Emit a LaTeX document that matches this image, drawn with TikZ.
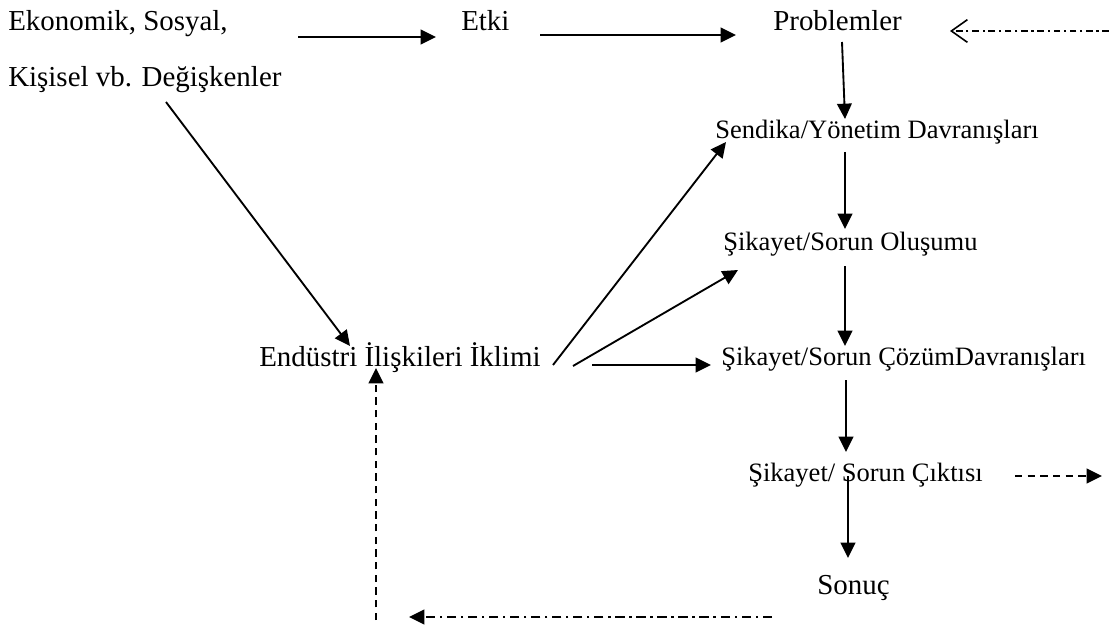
\documentclass[tikz,border=0pt]{standalone}
\usepackage{fontspec}
\setmainfont{Liberation Serif}
\usetikzlibrary{arrows.meta}
\begin{document}
\begin{tikzpicture}[x=0.75pt,y=-0.75pt,
  lbl/.style={inner sep=0pt,anchor=base west,font=\fontsize{21.7}{26}\selectfont},
  slbl/.style={lbl,font=\fontsize{19.9}{24}\selectfont},
  arr/.style={line width=1.4pt,-{Triangle[length=11.5pt,width=11pt]}},
  dasharr/.style={arr,dash pattern=on 5.5pt off 4pt},
  dotdasharr/.style={arr,dash pattern=on 7pt off 3.5pt on 1.8pt off 3.5pt},
  openarr/.style={line width=1.2pt,dash pattern=on 5pt off 2.8pt on 1.6pt off 2.8pt,
    -{Straight Barb[length=12pt,width=17pt,line width=1.2pt]}}]
\useasboundingbox (0,0) rectangle (1109,627);
% text blocks
\node[lbl] (ek1) at (8,31) {Ekonomik, Sosyal,};
\node[lbl] (ek2) at (8,87) {Kişisel vb. Değişkenler};
\node[lbl] (etki) at (461,31) {Etki};
\node[lbl] (prob) at (773,31) {Problemler};
\node[slbl] (sendika) at (715,139) {Sendika/Yönetim Davranışları};
\node[slbl] (olusum) at (723,250) {Şikayet/Sorun Oluşumu};
\node[slbl] (cozum) at (721,365) {Şikayet/Sorun ÇözümDavranışları};
\node[slbl] (cikti) at (748,481) {Şikayet/ Sorun Çıktısı};
\node[lbl] (sonuc) at (817,594) {Sonuç};
\node[lbl] (endustri) at (259,366) {Endüstri İlişkileri İklimi};
% connector end points
\coordinate (a1) at (298,37);   \coordinate (a2) at (436,37);
\coordinate (b1) at (540,35);   \coordinate (b2) at (736,35);
\coordinate (c1) at (1109,31);  \coordinate (c2) at (950,31);
\coordinate (d1) at (842,42);   \coordinate (d2) at (845,119);
\coordinate (e1) at (845,152);  \coordinate (e2) at (845,229);
\coordinate (f1) at (845,266);  \coordinate (f2) at (845,346);
\coordinate (g1) at (846,380);  \coordinate (g2) at (846,452);
\coordinate (h1) at (848,476);  \coordinate (h2) at (848,558);
\coordinate (i1) at (1015,476); \coordinate (i2) at (1102,476);
\coordinate (j1) at (772,617);  \coordinate (j2) at (409,617);
\coordinate (k1) at (376,620);  \coordinate (k2) at (376,368);
\coordinate (l1) at (166,102);  \coordinate (l2) at (350,346);
\coordinate (m1) at (553,365);  \coordinate (m2) at (726,142);
\coordinate (n1) at (573,366);  \coordinate (n2) at (738,270);
\coordinate (o1) at (592,365);  \coordinate (o2) at (711,365);
% connectors
\draw[arr] (a1) -- (a2);
\draw[arr] (b1) -- (b2);
\draw[openarr] (c1) -- (c2);
\draw[arr] (d1) -- (d2);
\draw[arr] (e1) -- (e2);
\draw[arr] (f1) -- (f2);
\draw[arr] (g1) -- (g2);
\draw[arr] (h1) -- (h2);
\draw[dasharr] (i1) -- (i2);
\draw[dotdasharr] (j1) -- (j2);
\draw[dasharr] (k1) -- (k2);
\draw[arr] (l1) -- (l2);
\draw[arr] (m1) -- (m2);
\draw[arr] (n1) -- (n2);
\draw[arr] (o1) -- (o2);
\end{tikzpicture}
\end{document}
